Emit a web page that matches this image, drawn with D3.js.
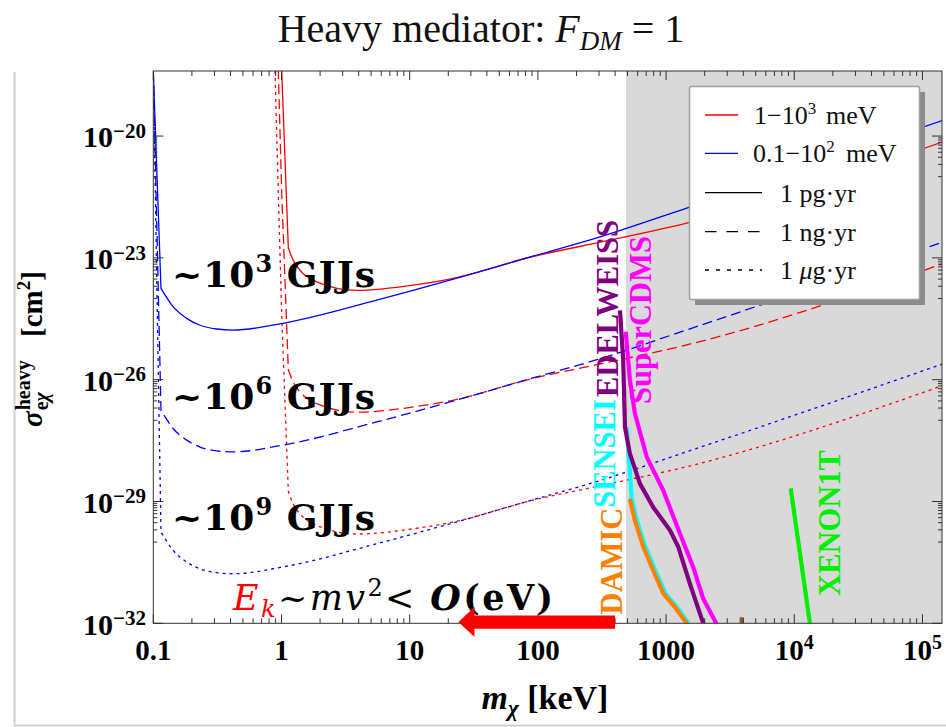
<!DOCTYPE html>
<html><head><meta charset="utf-8">
<script src="https://cdn.jsdelivr.net/npm/d3@7"></script>
<style>body{margin:0;background:#fff}svg{display:block}</style>
</head><body>
<svg id="c" width="946" height="727"></svg>
<script>
// ---------------- data ----------------
const massTicks = [0.1, 1, 10, 100, 1000, 1e4, 1e5];
const massTickLabels = [["0.1",""],["1",""],["10",""],["100",""],["1000",""],["10","4"],["10","5"]];
const sigmaTickExps = [-20, -23, -26, -29, -32];

// m [keV], sigma [cm^2]
const red_pg = [[0.890,4e-13],[0.944,4e-16],[1.004,4e-19],[1.130,1.78e-23],[1.236,8.7e-24],[1.882,2.57e-24],[3.86,1.58e-24],[11.34,2.19e-24],[20.6,3.0e-24],[91.6,1.08e-23],[288,2.34e-23],[1449,7.2e-23],[1.445e5,7.2e-21]];
const red_ng = [[0.890,4e-16],[0.944,4e-19],[1.004,4e-22],[1.130,1.78e-26],[1.236,8.7e-27],[1.882,2.57e-27],[3.86,1.58e-27],[11.34,2.19e-27],[20.6,3.0e-27],[91.6,1.08e-26],[288,2.34e-26],[1449,7.2e-26],[1.445e5,7.2e-24]];
const red_ug = [[0.890,4e-19],[0.944,4e-22],[1.004,4e-25],[1.130,1.78e-29],[1.236,8.7e-30],[1.882,2.57e-30],[3.86,1.58e-30],[11.34,2.19e-30],[20.6,3.0e-30],[91.6,1.08e-29],[288,2.34e-29],[1449,7.2e-29],[1.445e5,7.2e-27]];
const blue_pg = [[0.1,4e-19],[0.1148,1.78e-24],[0.1432,6.2e-25],[0.182,3.24e-25],[0.2313,2.19e-25],[0.312,1.77e-25],[0.419,1.66e-25],[1.027,2.45e-25],[5.53,9.1e-25],[20.6,2.82e-24],[91.6,1.1e-23],[288,3.1e-23],[1449,1.68e-22],[1.445e5,2.45e-20]];
const blue_ng = [[0.1,4e-19],[0.1148,1.78e-27],[0.1432,6.2e-28],[0.182,3.24e-28],[0.2313,2.19e-28],[0.312,1.77e-28],[0.419,1.66e-28],[1.027,2.45e-28],[5.53,9.1e-28],[20.6,2.82e-27],[91.6,1.1e-26],[288,3.1e-26],[1449,1.68e-25],[1.445e5,2.45e-23]];
const blue_ug = [[0.1,4e-19],[0.1148,1.78e-30],[0.1432,6.2e-31],[0.182,3.24e-31],[0.2313,2.19e-31],[0.312,1.77e-31],[0.419,1.66e-31],[1.027,2.45e-31],[5.53,9.1e-31],[20.6,2.82e-30],[91.6,1.1e-29],[288,3.1e-29],[1449,1.68e-28],[1.445e5,2.45e-26]];

const edelweiss = [[437,5.1e-25],[463,3.0e-26],[478,6.8e-28],[522,1.51e-28],[625,2.75e-29],[794,7.2e-30],[1072,1.95e-30],[1245,7.6e-31],[1535,9.3e-32],[1950,1e-32]];
const supercdms = [[484,1.51e-25],[522,9.8e-27],[571,1.48e-27],[706,1.26e-28],[951,1.86e-29],[1282,1.62e-30],[1629,2.4e-31],[1950,4.0e-32],[2483,9.5e-33]];
const sensei = [[493,6.8e-28],[514,1.02e-28],[540,1.17e-29],[592,3.4e-30],[690,7.6e-31],[826,2.0e-31],[989,5.4e-32],[1216,2.5e-32],[1496,1e-32]];
const damic = [[522,1.17e-29],[571,3.4e-30],[664,7.6e-31],[794,2.0e-31],[951,5.4e-32],[1172,2.5e-32],[1449,1e-32]];
const xenon1t = [[9376,2.1e-29],[13240,1e-32]];
const brownMark = [[3890,1.4e-32],[3890,1e-32]];

const excludedFrom = 486; // keV, grey region start
const gjjLabels = [["3",1.9e-24],["6",1.95e-27],["9",2.0e-30]];
const arrowFrom = 400, arrowTo = 24, arrowSigma = 1.07e-32;

// ---------------- drawing ----------------
const svg = d3.select("#c");
const L = 153.3, R = 942, T = 71, B = 623.3;
const x = d3.scaleLog().domain([0.1, 1.42e5]).range([L, R]);
const y = d3.scaleLog().domain([1e-32, 4e-19]).range([B, T]);
const serif = "'Liberation Serif','Times New Roman',serif";
const dserif = "'DejaVu Serif',serif";

// outer frame
svg.append("line").attr("x1",14.5).attr("x2",14.5).attr("y1",72).attr("y2",726).attr("stroke","#cfcfcf").attr("stroke-width",2);
svg.append("line").attr("x1",14).attr("x2",946).attr("y1",725.5).attr("y2",725.5).attr("stroke","#cfcfcf").attr("stroke-width",2);

// title
const title = svg.append("text").attr("x",481).attr("y",42).attr("text-anchor","middle")
  .attr("font-family",serif).attr("font-size",40).attr("fill","#111");
title.append("tspan").text("Heavy mediator: ");
title.append("tspan").attr("font-style","italic").text("F");
title.append("tspan").attr("font-style","italic").attr("font-size",27).attr("dy",8).text("DM");
title.append("tspan").attr("dy",-8).text(" = 1");

// clip
svg.append("clipPath").attr("id","pc").append("rect").attr("x",L).attr("y",T).attr("width",R-L).attr("height",B-T);
const g = svg.append("g").attr("clip-path","url(#pc)");

// excluded grey region
g.append("rect").attr("x",x(excludedFrom)).attr("y",T).attr("width",R-x(excludedFrom)).attr("height",B-T).attr("fill","#d9d9d9");

const smooth = d3.line().x(d=>x(d[0])).y(d=>y(d[1])).curve(d3.curveMonotoneX);
const lin = d3.line().x(d=>x(d[0])).y(d=>y(d[1]));

const models = [
  [red_pg,"#ff0000",null],[red_ng,"#ff0000","10,5"],[red_ug,"#ff0000","3,4"],
  [blue_pg,"#0000ff",null],[blue_ng,"#0000ff","10,5"],[blue_ug,"#0000ff","3,4"]
];
models.forEach(([d,c,da])=>{
  // steep threshold part drawn straight, the rest smooth
  let k = 0;
  for (let i=0;i<d.length-1;i++){
    const s = Math.abs((y(d[i+1][1])-y(d[i][1]))/(x(d[i+1][0])-x(d[i][0])));
    if (s < 4){ k=i; break; }
  }
  const pth = lin(d.slice(0,k+1)) + smooth(d.slice(k)).replace(/^M/,"L");
  const p = g.append("path").attr("d",pth).attr("fill","none").attr("stroke",c).attr("stroke-width",1.3).attr("stroke-linejoin","round");
  if (da) p.attr("stroke-dasharray",da);
});

[[sensei,"#00ffff"],[damic,"#ff8000"],[edelweiss,"#800080"],[supercdms,"#ff00ff"],[xenon1t,"#00ee00"],[brownMark,"#8b5a2b"]].forEach(([d,c])=>{
  g.append("path").attr("d",lin(d)).attr("fill","none").attr("stroke",c).attr("stroke-width",4.2).attr("stroke-linejoin","round");
});

// experiment labels (rotated)
const expLabels = [["EDELWEISS","#800080",618,308.5],["SuperCDMS","#ff00ff",650.5,320],["SENSEI","#00ffff",615,453.5],["DAMIC","#ff8000",621.5,561],["XENON1T","#00ee00",840,523]];
expLabels.forEach(([t,c,bx,cy])=>{
  svg.append("text").attr("transform",`translate(${bx},${cy}) rotate(-90)`).attr("text-anchor","middle")
    .attr("font-family",serif).attr("font-weight","bold").attr("font-size",30.5).attr("fill",c).text(t);
});

// GJJs labels
gjjLabels.forEach(([e,s])=>{
  const t = svg.append("text").attr("x",172).attr("y",y(s)).attr("font-family",dserif).attr("font-weight","bold")
    .attr("font-size",36).attr("fill","#000").attr("textLength",203).attr("lengthAdjust","spacing");
  t.append("tspan").text("~10");
  t.append("tspan").attr("font-size",24).attr("dy",-15).text(e);
  t.append("tspan").attr("dy",15).text(" GJJs");
});

// axes frame + ticks
const ax = svg.append("g").attr("stroke","#333").attr("stroke-width",1);
ax.append("rect").attr("x",L).attr("y",T).attr("width",R-L).attr("height",B-T).attr("fill","none");
const xMinor = [];
for (let e=-1;e<=5;e++) for (let k=2;k<=9;k++){ const v=k*Math.pow(10,e); if (v<=1.42e5) xMinor.push(v); }
massTicks.forEach(v=>{
  ax.append("line").attr("x1",x(v)).attr("x2",x(v)).attr("y1",B).attr("y2",B-9);
  ax.append("line").attr("x1",x(v)).attr("x2",x(v)).attr("y1",T).attr("y2",T+9);
});
xMinor.forEach(v=>{
  ax.append("line").attr("x1",x(v)).attr("x2",x(v)).attr("y1",B).attr("y2",B-5);
  ax.append("line").attr("x1",x(v)).attr("x2",x(v)).attr("y1",T).attr("y2",T+5);
});
const yMinor = [];
sigmaTickExps.forEach(n=>{ for (let k=1;k<=9;k++){ const v=k*Math.pow(10,n-1); if (v>=1e-32 && v<=4e-19) yMinor.push(v);} });
sigmaTickExps.forEach(n=>{
  const v=Math.pow(10,n);
  ax.append("line").attr("x1",L).attr("x2",L+10).attr("y1",y(v)).attr("y2",y(v));
  ax.append("line").attr("x1",R).attr("x2",R-10).attr("y1",y(v)).attr("y2",y(v));
});
yMinor.forEach(v=>{
  ax.append("line").attr("x1",L).attr("x2",L+4).attr("y1",y(v)).attr("y2",y(v));
  ax.append("line").attr("x1",R).attr("x2",R-4).attr("y1",y(v)).attr("y2",y(v));
});

// tick labels
massTicks.forEach((v,i)=>{
  const t = svg.append("text").attr("x",x(v)).attr("y",660).attr("text-anchor","middle")
    .attr("font-family",serif).attr("font-weight","bold").attr("font-size",29).attr("fill","#000");
  t.append("tspan").text(massTickLabels[i][0]);
  if (massTickLabels[i][1]) t.append("tspan").attr("font-size",20).attr("dy",-11).text(massTickLabels[i][1]);
});
sigmaTickExps.forEach(n=>{
  const t = svg.append("text").attr("x",146).attr("y",y(Math.pow(10,n))+11.3).attr("text-anchor","end")
    .attr("font-family",serif).attr("font-weight","bold").attr("font-size",30).attr("fill","#000");
  t.append("tspan").text("10");
  t.append("tspan").attr("font-size",21).attr("dy",-9.5).text("\u2212"+Math.abs(n));
});

// axis titles
const xt = svg.append("text").attr("x",545).attr("y",709).attr("text-anchor","middle")
  .attr("font-family",serif).attr("font-weight","bold").attr("font-size",34).attr("fill","#000");
xt.append("tspan").attr("font-style","italic").text("m");
xt.append("tspan").attr("font-style","italic").attr("font-size",23).attr("dy",7).text("\u03c7");
xt.append("tspan").attr("dy",-7).text(" [keV]");

const yt = svg.append("g").attr("transform","translate(42,348) rotate(-90)")
  .attr("font-family",serif).attr("font-weight","bold").attr("fill","#000");
const sg = yt.append("text").attr("x",-79).attr("y",0).attr("font-size",29).attr("font-style","italic").text("\u03c3");
const ws = sg.node().getComputedTextLength();
yt.append("text").attr("x",-79+ws+1).attr("y",-12).attr("font-size",20).text("heavy");
const ec = yt.append("text").attr("x",-79+ws+1).attr("y",6).attr("font-size",20);
ec.append("tspan").text("e"); ec.append("tspan").attr("font-style","italic").text("\u03c7");
const cm = yt.append("text").attr("x",11).attr("y",0).attr("font-size",29);
cm.append("tspan").text("[cm");
cm.append("tspan").attr("font-size",19).attr("dy",-12).text("2");
cm.append("tspan").attr("dy",12).text("]");

// kinetic energy annotation + arrow
const ek = svg.append("text").attr("x",233).attr("y",610).attr("font-family",dserif).attr("font-size",35).attr("fill","#000")
  .attr("textLength",320).attr("lengthAdjust","spacing");
ek.append("tspan").attr("font-style","italic").attr("fill","#ff0000").text("E");
ek.append("tspan").attr("font-style","italic").attr("fill","#ff0000").attr("font-size",24).attr("dy",7).text("k");
ek.append("tspan").attr("dy",-7).text("~");
ek.append("tspan").attr("font-style","italic").text("mv");
ek.append("tspan").attr("font-size",24).attr("dy",-14).text("2");
ek.append("tspan").attr("dy",14).text("< ");
ek.append("tspan").attr("font-style","italic").attr("font-weight","bold").text("O");
ek.append("tspan").attr("font-weight","bold").text("(eV)");

const ax0 = x(arrowFrom), ax1 = x(arrowTo), ay = y(arrowSigma);
const hb = ax1 + 16;
svg.append("polygon").attr("fill","#ff0000")
  .attr("points",[[ax1,ay],[hb,ay-15],[hb,ay-6.7],[ax0,ay-6.7],[ax0,ay+6.7],[hb,ay+6.7],[hb,ay+15]].map(p=>p.join(",")).join(" "));

// legend
const lg = svg.append("g");
lg.append("rect").attr("x",695).attr("y",92).attr("width",230).attr("height",213).attr("fill","#8c8c8c");
lg.append("rect").attr("x",689.5).attr("y",86.5).attr("width",230).attr("height",213).attr("fill","#fff").attr("stroke","#9e9e9e").attr("stroke-width",1.5).attr("rx",1.5);
const legRows = [
  {c:"#ff0000",da:null,len:33,y:115,parts:[["1\u221210",null,754],["3","sup",null],["meV",null,826]]},
  {c:"#0000ff",da:null,len:33,y:153.3,parts:[["0.1\u221210",null,753],["2","sup",null],["meV",null,846]]},
  {c:"#000",da:null,len:57,y:192.7,parts:[["1 pg\u00b7yr",null,780]]},
  {c:"#000",da:"11.5,10",len:57,y:231.7,parts:[["1 ng\u00b7yr",null,780]]},
  {c:"#000",da:"4,7",len:57,y:270,parts:[["1 ",null,780],["\u03bc","it",null],["g\u00b7yr",null,null]]}
];
legRows.forEach(r=>{
  const l = lg.append("line").attr("x1",705).attr("x2",705+r.len).attr("y1",r.y).attr("y2",r.y).attr("stroke",r.c).attr("stroke-width",1.3);
  if (r.da) l.attr("stroke-dasharray",r.da);
  const t = lg.append("text").attr("y",r.y+9).attr("font-family",serif).attr("font-size",26).attr("fill","#111");
  let up=false;
  r.parts.forEach(([s,k,px])=>{
    const ts = t.append("tspan").text(s);
    if (px!==null) ts.attr("x",px);
    if (k==="sup"){ ts.attr("font-size",17).attr("dy",-10); up=true; }
    else if (up){ ts.attr("dy",10); up=false; }
    if (k==="it") ts.attr("font-style","italic");
  });
});
</script>
</body></html>
